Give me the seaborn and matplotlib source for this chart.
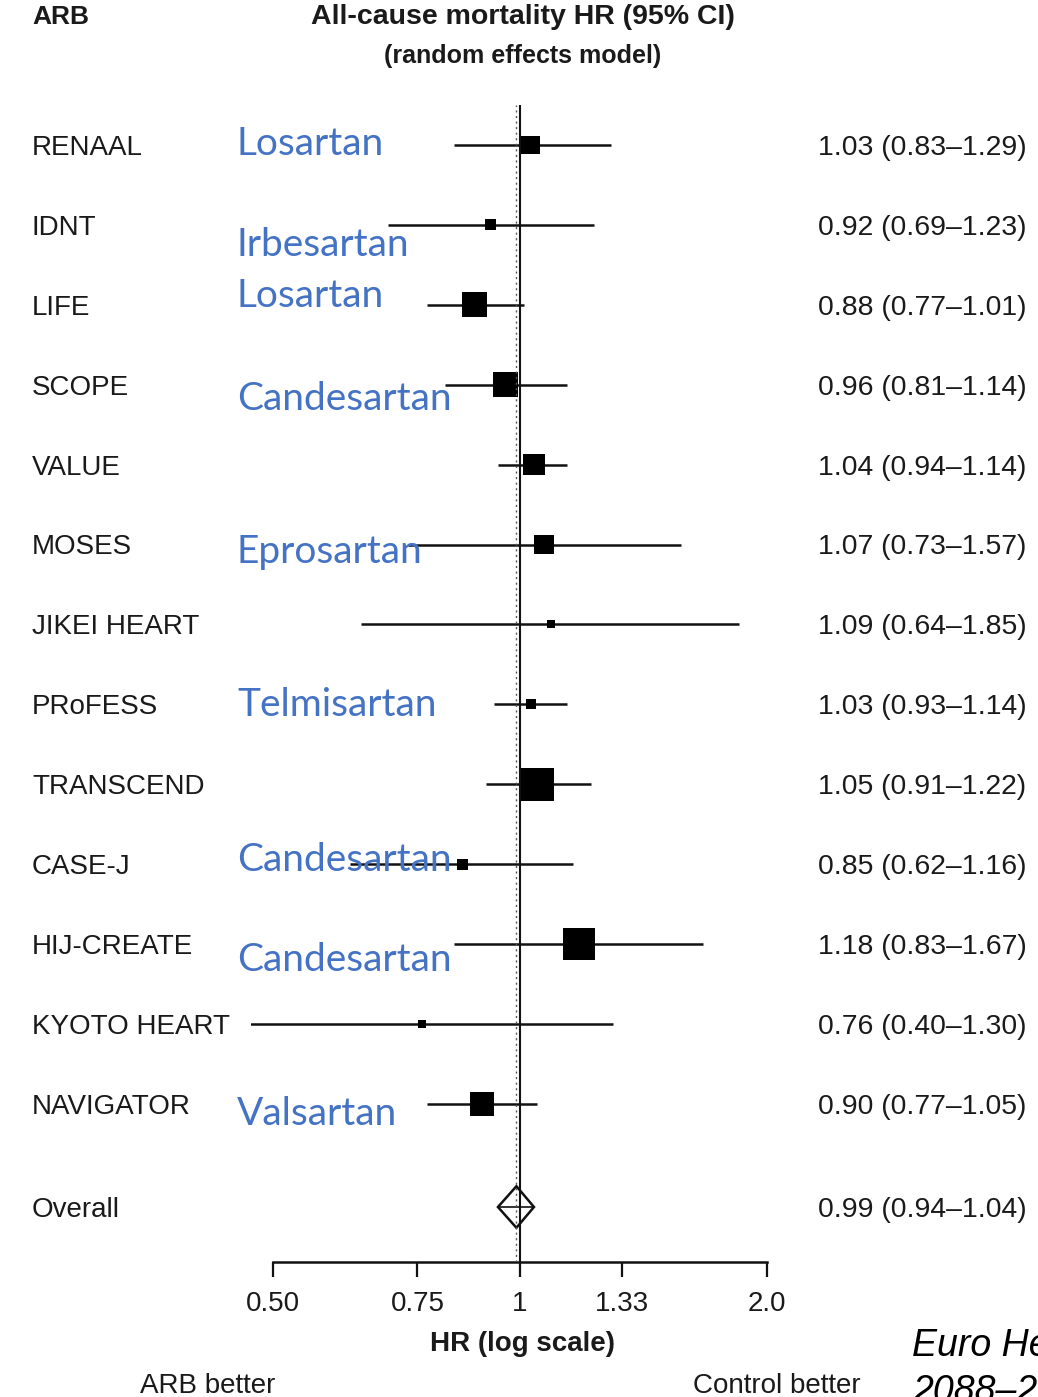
import matplotlib
matplotlib.use("Agg")

import matplotlib.pyplot as plt
import matplotlib.transforms as mtransforms
import numpy as np
import pandas as pd
import seaborn as sns
from matplotlib.patches import Polygon
from matplotlib.ticker import NullLocator

# data
trials = [
    "RENAAL", "IDNT", "LIFE", "SCOPE", "VALUE", "MOSES", "JIKEI HEART",
    "PRoFESS", "TRANSCEND", "CASE-J", "HIJ-CREATE", "KYOTO HEART", "NAVIGATOR",
]
hr = [1.03, 0.92, 0.88, 0.96, 1.04, 1.07, 1.09, 1.03, 1.05, 0.85, 1.18, 0.76, 0.90]
ci_low = [0.83, 0.69, 0.77, 0.81, 0.94, 0.73, 0.64, 0.93, 0.91, 0.62, 0.83, 0.40, 0.77]
ci_high = [1.29, 1.23, 1.01, 1.14, 1.14, 1.57, 1.85, 1.14, 1.22, 1.16, 1.67, 1.30, 1.05]
# relative weight (%)
weights = [6.4, 2.2, 11.1, 11.1, 7.9, 7.1, 1.1, 1.8, 19.4, 2.2, 18.3, 1.1, 10.3]
drugs = [
    "Losartan", "Irbesartan", "Losartan", "Candesartan", None, "Eprosartan", None,
    "Telmisartan", None, "Candesartan", "Candesartan", None, "Valsartan",
]

overall_hr = 0.99
overall_low = 0.94
overall_high = 1.04

tick_values = [0.50, 0.75, 1.0, 1.33, 2.0]
tick_labels = ["0.50", "0.75", "1", "1.33", "2.0"]

# layout (pixels of the 1038x1397 canvas)
W, H = 1038, 1397
PX_PER_LOG2 = 247
X_ONE = 520
X_LIM = (0.47, 2.2)
ROW0, ROW_STEP = 145, 79.9
AX_TOP, AX_BOTTOM = 105, 1262
OVERALL_ROW = (1207 - ROW0) / ROW_STEP
drug_nudge = [-0.06, 0.21, -0.15, 0.14, 0, 0.05, 0, -0.04, 0, -0.10, 0.16, 0, 0.09]

TEXT = "#1a1a1a"
BLUE = "#4472C4"

sns.set_theme(style="ticks")
plt.rcParams["font.family"] = ["Liberation Sans", "DejaVu Sans"]


def px_of(value):
    return X_ONE + PX_PER_LOG2 * np.log2(value)


fig = plt.figure(figsize=(W / 100, H / 100), dpi=100)
left_px, right_px = px_of(X_LIM[0]), px_of(X_LIM[1])
ax = fig.add_axes([
    left_px / W, 1 - AX_BOTTOM / H, (right_px - left_px) / W, (AX_BOTTOM - AX_TOP) / H
])
ax.set_xscale("log")
ax.set_xlim(*X_LIM)
ax.set_ylim((AX_BOTTOM - ROW0) / ROW_STEP, (AX_TOP - ROW0) / ROW_STEP)

df = pd.DataFrame({
    "trial": trials,
    "row": np.arange(len(trials)),
    "hr": hr,
    "low": ci_low,
    "high": ci_high,
    "weight": weights,
})

ax.hlines(df["row"], df["low"], df["high"], color="#111111", linewidth=1.8, zorder=2)
area_per_weight = (7.5 * 0.72) ** 2
sns.scatterplot(
    data=df, x="hr", y="row", size="weight",
    sizes=(area_per_weight * df["weight"].min(), area_per_weight * df["weight"].max()),
    marker="s", color="black", edgecolor="black", linewidth=0,
    legend=False, ax=ax, zorder=3,
)

half_h = 0.26
diamond = Polygon(
    [
        (overall_low, OVERALL_ROW),
        (overall_hr, OVERALL_ROW - half_h),
        (overall_high, OVERALL_ROW),
        (overall_hr, OVERALL_ROW + half_h),
    ],
    closed=True, facecolor="white", edgecolor="#111111", linewidth=1.8, zorder=4,
)
ax.add_patch(diamond)
ax.hlines(OVERALL_ROW, overall_low, overall_high, color="#111111", linewidth=1.2, zorder=5)

ax.axvline(1, color="#111111", linewidth=1.5, zorder=5)
ax.axvline(overall_hr, color="#555555", linewidth=1.0, linestyle=(0, (1.5, 2.5)), zorder=5)

sns.despine(ax=ax, left=True, top=True, right=True)
ax.spines["bottom"].set_bounds(tick_values[0], tick_values[-1])
ax.spines["bottom"].set_linewidth(1.8)
ax.spines["bottom"].set_color("#111111")
ax.set_xticks(tick_values, tick_labels)
ax.xaxis.set_minor_locator(NullLocator())
ax.tick_params(axis="x", length=11, width=1.6, pad=10, labelsize=20,
               color="#111111", labelcolor=TEXT, direction="out")
ax.set_yticks([])
ax.set_xlabel("")
ax.set_ylabel("")

row_tf = mtransforms.blended_transform_factory(fig.transFigure, ax.transData)
for i, row in df.iterrows():
    ax.text(32 / W, row["row"], row["trial"], transform=row_tf, fontsize=20,
            color=TEXT, ha="left", va="center_baseline", clip_on=False)
    ax.text(818 / W, row["row"], f"{row['hr']:.2f} ({row['low']:.2f}\u2013{row['high']:.2f})",
            transform=row_tf, fontsize=20.4, color=TEXT, ha="left",
            va="center_baseline", clip_on=False)
    if drugs[i]:
        ax.text(237 / W, row["row"] + drug_nudge[i], drugs[i], transform=row_tf,
                fontsize=28, color=BLUE, family=["Lato", "DejaVu Sans"],
                ha="left", va="center_baseline", zorder=6, clip_on=False)

ax.text(32 / W, OVERALL_ROW, "Overall", transform=row_tf, fontsize=20, color=TEXT,
        ha="left", va="center_baseline", clip_on=False)
ax.text(818 / W, OVERALL_ROW, f"{overall_hr:.2f} ({overall_low:.2f}\u2013{overall_high:.2f})",
        transform=row_tf, fontsize=20.4, color=TEXT, ha="left",
        va="center_baseline", clip_on=False)

fig.text(32 / W, 1 - 14 / H, "ARB", fontsize=19, fontweight="bold", color=TEXT,
         ha="left", va="center_baseline")
fig.text(523 / W, 1 - 14 / H, "All-cause mortality HR (95% CI)", fontsize=20.5,
         fontweight="bold", color=TEXT, ha="center", va="center_baseline")
fig.text(523 / W, 1 - 53 / H, "(random effects model)", fontsize=18,
         fontweight="bold", color=TEXT, ha="center", va="center_baseline")

fig.text(523 / W, 1 - 1341 / H, "HR (log scale)", fontsize=20, fontweight="bold",
         color=TEXT, ha="center", va="center_baseline")
fig.text(208 / W, 1 - 1383 / H, "ARB better", fontsize=20, color=TEXT,
         ha="center", va="center_baseline")
fig.text(777 / W, 1 - 1383 / H, "Control better", fontsize=20, color=TEXT,
         ha="center", va="center_baseline")

# citation runs off the slide edge in the original
fig.text(912 / W, 1 - 1341.5 / H, "Euro Heart J", fontsize=27, style="italic",
         color="black", ha="left", va="center_baseline")
fig.text(912 / W, 1 - 1388.5 / H, "2088\u20132", fontsize=27, style="italic",
         color="black", ha="left", va="center_baseline")

fig.savefig("out.png", dpi=100)
